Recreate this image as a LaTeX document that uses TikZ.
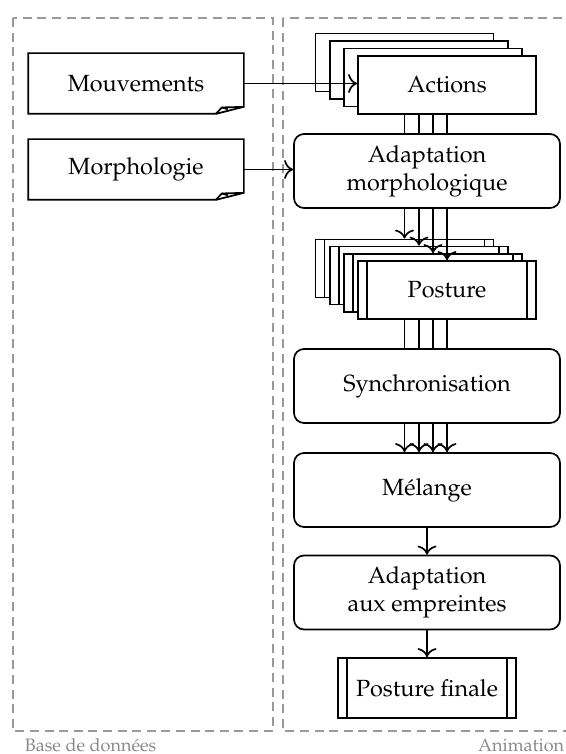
\documentclass[tikz,border=0pt]{standalone}
\usepackage[T1]{fontenc}
\usepackage{mathpazo}
\usetikzlibrary{arrows.meta}
\definecolor{framegray}{HTML}{999999}
\definecolor{labelgray}{HTML}{8A8A8A}
\begin{document}
\begin{tikzpicture}[x=0.5pt,y=-0.5pt,line width=0.85pt,
  >={Computer Modern Rightarrow[scale=1.3]},
  font=\fontsize{11.7}{14}\selectfont,
  frame/.style={draw=framegray,dash pattern=on 4.5pt off 2.8pt,line width=0.65pt},
  grouplabel/.style={text=labelgray,font=\fontsize{9}{11}\selectfont,inner sep=0pt},
  docbox/.style={minimum width=107pt,minimum height=29.5pt,inner sep=0pt},
  stackbox/.style={draw,fill=white,minimum width=89pt,minimum height=29pt,inner sep=0pt},
  procbox/.style={stackbox,path picture={
      \draw ([xshift=4.5pt]path picture bounding box.north west) -- ([xshift=4.5pt]path picture bounding box.south west)
            ([xshift=-4.5pt]path picture bounding box.north east) -- ([xshift=-4.5pt]path picture bounding box.south east);}},
  stepround/.style={draw,fill=white,rounded corners=5pt,minimum width=133pt,minimum height=37pt,
      align=center,inner sep=0pt},
]
\useasboundingbox (0,0) rectangle (566,754);

% group frames
\draw[frame] (13,18) rectangle (273,731);
\draw[frame] (283,18) rectangle (600,731);
\node[grouplabel,anchor=base west] (dblabel) at (24,751) {Base de donn\'ees};
\node[grouplabel,anchor=base east] (animlabel) at (565,751) {Animation};

% database documents
\node[docbox] (mouv) at (136,83.5) {Mouvements};
\node[docbox] (morph) at (136,169.5) {Morphologie};
\foreach \d in {mouv,morph}{
  \draw (\d.north west) -- (\d.north east) -- ([yshift=3.5pt]\d.south east)
        -- ([xshift=-14pt]\d.south east) -- (\d.south west) -- cycle;
  \draw ([xshift=-14pt]\d.south east) -- ([xshift=-11pt,yshift=3.2pt]\d.south east)
        -- ([yshift=3.5pt]\d.south east);
  \draw ([xshift=-11pt,yshift=3.2pt]\d.south east) -- ([xshift=-8pt,yshift=2.3pt]\d.south east);
}

% stack of actions
\node[stackbox] (act1) at (404.5,62.5) {};
\node[stackbox] (act2) at (419,70) {};
\node[stackbox] (act3) at (433,77.5) {};
\node[stackbox] (act4) at (447,85) {Actions};

\node[stepround] (adapt) at (427,171) {Adaptation\\morphologique};

% stack of postures
\node[procbox] (post1) at (404.5,268.5) {};
\node[procbox] (post2) at (419,275.5) {};
\node[procbox] (post3) at (433,283) {};
\node[procbox] (post4) at (447,290) {Posture};

\node[stepround] (sync) at (427,386) {Synchronisation};
\node[stepround] (melange) at (427,490) {M\'elange};
\node[stepround] (empr) at (427,592.5) {Adaptation\\aux empreintes};
\node[procbox,minimum height=30pt] (final) at (427,688) {Posture finale};

% connectors
\draw[->] (mouv.east) -- (mouv.east -| act4.west);
\draw[->] (morph.east) -- (morph.east -| adapt.west);
\foreach \k in {1,...,4}{
  \draw (act\k.south |- act4.south) -- (act\k.south |- adapt.north);
  \draw[->] (post\k.north |- adapt.south) -- (post\k.north);
  \draw (post\k.south |- post4.south) -- (post\k.south |- sync.north);
  \draw[->] (post\k.south |- sync.south) -- (post\k.south |- melange.north);
}
\draw[->] (melange) -- (empr);
\draw[->] (empr) -- (final);
\end{tikzpicture}
\end{document}
